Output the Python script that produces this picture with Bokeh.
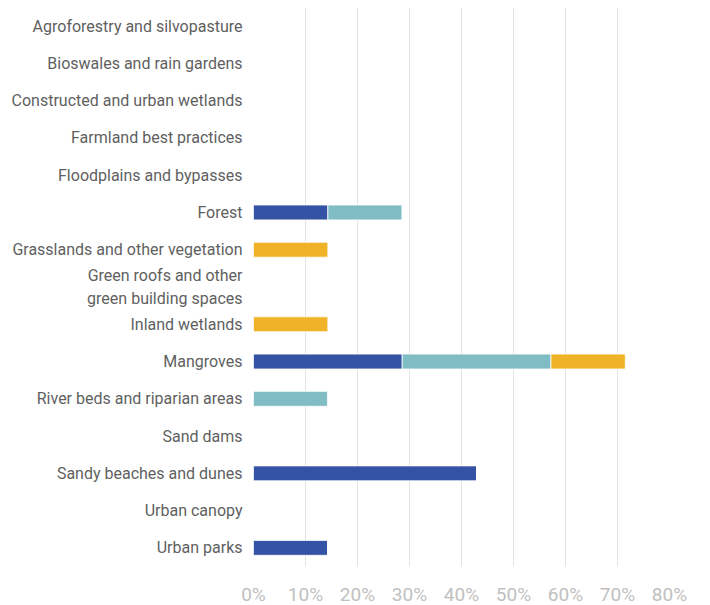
from bokeh.plotting import figure
from bokeh.models import FactorRange, NumeralTickFormatter, SingleIntervalTicker, ColumnDataSource
from bokeh.embed import file_html
from bokeh.resources import INLINE

categories = [
    "Agroforestry and silvopasture",
    "Bioswales and rain gardens",
    "Constructed and urban wetlands",
    "Farmland best practices",
    "Floodplains and bypasses",
    "Forest",
    "Grasslands and other vegetation",
    "Green roofs and other\ngreen building spaces",
    "Inland wetlands",
    "Mangroves",
    "River beds and riparian areas",
    "Sand dams",
    "Sandy beaches and dunes",
    "Urban canopy",
    "Urban parks",
]
series_a = [0, 0, 0, 0, 0, 0.143, 0, 0, 0, 0.286, 0, 0, 0.429, 0, 0.143]
series_b = [0, 0, 0, 0, 0, 0.143, 0, 0, 0, 0.286, 0.143, 0, 0, 0, 0]
series_c = [0, 0, 0, 0, 0, 0, 0.143, 0, 0.143, 0.143, 0, 0, 0, 0, 0]
series_names = ["a", "b", "c"]
colors = ["#3553A5", "#80BCC4", "#F0B226"]
x_ticks_max = 0.8

FONT = "Roboto"

src = ColumnDataSource(dict(cat=categories, a=series_a, b=series_b, c=series_c))

p = figure(
    frame_width=416, frame_height=559,
    y_range=FactorRange(*reversed(categories)),
    x_range=(0, x_ticks_max),
    output_backend="svg", toolbar_location=None,
    min_border_top=7, min_border_left=253, min_border_right=28, min_border_bottom=36,
)
p.hbar_stack(series_names, y="cat", height=0.4, color=colors, source=src,
             line_color="white", line_width=0.8)

p.outline_line_color = None
p.ygrid.grid_line_color = None
p.xgrid.grid_line_color = "#e3e3e3"
p.xgrid.grid_line_width = 1

p.xaxis.ticker = SingleIntervalTicker(interval=0.1)
p.xaxis.formatter = NumeralTickFormatter(format="0%")
p.xaxis.axis_line_color = None
p.xaxis.major_tick_line_color = None
p.xaxis.minor_tick_line_color = None
p.xaxis.major_label_text_font = FONT
p.xaxis.major_label_text_font_size = "19px"
p.xaxis.major_label_text_color = "#c0c0c0"
p.xaxis.major_label_standoff = 10

p.yaxis.axis_line_color = None
p.yaxis.major_tick_line_color = None
p.yaxis.minor_tick_line_color = None
p.yaxis.major_label_text_font = FONT
p.yaxis.major_label_text_font_size = "16px"
p.yaxis.major_label_text_color = "#5f5f5f"
p.yaxis.major_label_standoff = 5

open("out.html", "w").write(file_html(p, INLINE))
